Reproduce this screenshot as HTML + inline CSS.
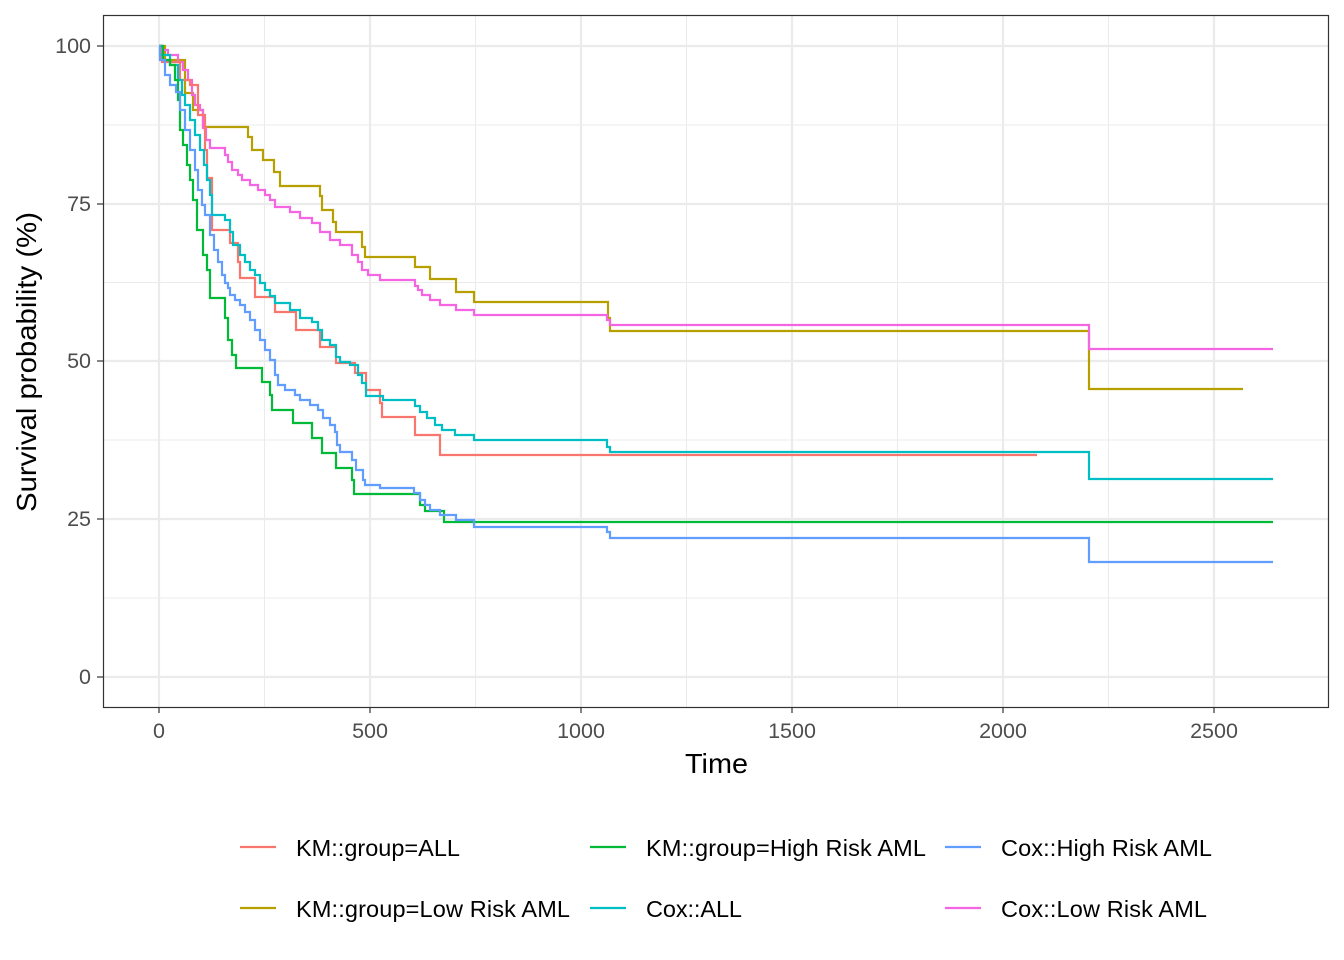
<!DOCTYPE html>
<html><head><style>body{margin:0;background:#fff}svg{display:block}</style></head><body>
<svg width="1344" height="960" xmlns="http://www.w3.org/2000/svg" font-family="Liberation Sans, sans-serif">
<rect width="1344" height="960" fill="#fff"/>
<g stroke="#EBEBEB" stroke-width="1">
<line x1="264.5" x2="264.5" y1="15" y2="707"/><line x1="475.5" x2="475.5" y1="15" y2="707"/><line x1="686.5" x2="686.5" y1="15" y2="707"/><line x1="897.5" x2="897.5" y1="15" y2="707"/><line x1="1108.5" x2="1108.5" y1="15" y2="707"/>
<line x1="103" x2="1328" y1="125" y2="125"/><line x1="103" x2="1328" y1="282.5" y2="282.5"/><line x1="103" x2="1328" y1="440" y2="440"/><line x1="103" x2="1328" y1="598" y2="598"/>
</g>
<g stroke="#EBEBEB" stroke-width="2.2">
<line x1="159" x2="159" y1="15" y2="707"/><line x1="370" x2="370" y1="15" y2="707"/><line x1="581" x2="581" y1="15" y2="707"/><line x1="792" x2="792" y1="15" y2="707"/><line x1="1003" x2="1003" y1="15" y2="707"/><line x1="1214" x2="1214" y1="15" y2="707"/>
<line x1="103" x2="1328" y1="46" y2="46"/><line x1="103" x2="1328" y1="204" y2="204"/><line x1="103" x2="1328" y1="361" y2="361"/><line x1="103" x2="1328" y1="519" y2="519"/><line x1="103" x2="1328" y1="677" y2="677"/>
</g>
<g fill="none" stroke-width="2.2">
<path stroke="#B79F00" d="M159 46 H165 V60 H185 V93 H193 V110 H203 V127 H248 V137 H252 V150 H263 V160 H274 V172 H280 V186 H320 V196 H322 V210 H333 V222 H336 V232 H362 V247 H365 V257 H415 V267 H430 V279 H456 V292 H474 V302 H608 V318 H610 V331 H1089 V389 H1243"/>
<path stroke="#F564E3" d="M159 46 H162 V50 H168 V55 H178 V62 H183 V70 H188 V80 H192 V95 H195 V105 H200 V110 H203 V128 H206 V140 H210 V148 H225 V155 H228 V162 H232 V170 H238 V175 H242 V180 H250 V185 H258 V190 H265 V195 H270 V200 H275 V207 H290 V212 H300 V218 H312 V223 H320 V232 H330 V240 H340 V245 H352 V255 H358 V262 H362 V270 H368 V275 H380 V280 H415 V286 H418 V290 H422 V295 H430 V300 H440 V305 H456 V310 H474 V315 H607 V320 H610 V325 H1089 V349 H1273"/>
<path stroke="#F8766D" d="M159 46 H162 V62 H180 V80 H190 V85 H198 V115 H205 V150 H207 V178 H212 V230 H230 V243 H238 V262 H240 V278 H255 V297 H275 V312 H296 V330 H320 V347 H336 V363 H355 V373 H366 V390 H380 V403 H382 V417 H415 V435 H440 V455 H1037"/>
<path stroke="#00BFC4" d="M159 46 H160 V55 H170 V65 H178 V80 H182 V95 H185 V105 H190 V120 H195 V135 H200 V150 H204 V165 H207 V180 H210 V195 H212 V215 H225 V220 H230 V232 H233 V245 H240 V255 H245 V262 H250 V270 H255 V275 H260 V283 H265 V290 H270 V296 H275 V303 H290 V310 H300 V318 H312 V322 H318 V330 H322 V340 H330 V345 H336 V357 H340 V362 H350 V365 H358 V375 H362 V383 H366 V396 H383 V400 H415 V406 H420 V412 H427 V418 H435 V425 H442 V430 H455 V435 H474 V440 H607 V447 H610 V452 H1089 V479 H1273"/>
<path stroke="#00BA38" d="M159 46 H163 V60 H170 V65 H175 V80 H178 V100 H180 V130 H183 V145 H187 V165 H190 V180 H193 V200 H197 V230 H203 V255 H207 V270 H210 V298 H225 V318 H228 V340 H232 V355 H236 V368 H262 V382 H270 V395 H272 V410 H293 V423 H312 V438 H322 V453 H336 V468 H352 V480 H354 V494 H420 V505 H425 V511 H444 V522 H1273"/>
<path stroke="#619CFF" d="M159 46 H160 V60 H165 V75 H170 V85 H176 V92 H180 V110 H185 V130 H190 V150 H195 V170 H198 V190 H202 V205 H205 V215 H210 V235 H214 V250 H218 V262 H222 V275 H225 V283 H228 V288 H230 V295 H235 V300 H240 V305 H245 V312 H250 V320 H255 V330 H260 V340 H265 V350 H270 V360 H275 V375 H278 V385 H285 V390 H295 V395 H300 V400 H310 V405 H318 V410 H323 V418 H330 V425 H335 V432 H337 V445 H340 V452 H352 V460 H356 V470 H363 V480 H365 V485 H380 V488 H414 V493 H420 V500 H425 V505 H430 V510 H440 V515 H456 V520 H474 V527 H607 V532 H610 V538 H1089 V562 H1273"/>
</g>
<rect x="103.5" y="15.5" width="1225" height="692" fill="none" stroke="#333" stroke-width="1.2"/>
<g stroke="#333" stroke-width="1.2">
<line x1="97" x2="103" y1="46" y2="46"/><line x1="97" x2="103" y1="204" y2="204"/><line x1="97" x2="103" y1="361" y2="361"/><line x1="97" x2="103" y1="519" y2="519"/><line x1="97" x2="103" y1="677" y2="677"/>
<line x1="159" x2="159" y1="707" y2="713"/><line x1="370" x2="370" y1="707" y2="713"/><line x1="581" x2="581" y1="707" y2="713"/><line x1="792" x2="792" y1="707" y2="713"/><line x1="1003" x2="1003" y1="707" y2="713"/><line x1="1214" x2="1214" y1="707" y2="713"/>
</g>
<g fill="#4D4D4D" font-size="21.5" text-anchor="end">
<text x="91" y="53">100</text><text x="91" y="211">75</text><text x="91" y="368">50</text><text x="91" y="526">25</text><text x="91" y="684">0</text>
</g>
<g fill="#4D4D4D" font-size="21.5" text-anchor="middle">
<text x="159" y="738">0</text><text x="370" y="738">500</text><text x="581" y="738">1000</text><text x="792" y="738">1500</text><text x="1003" y="738">2000</text><text x="1214" y="738">2500</text>
</g>
<text x="685" y="773" font-size="28" textLength="63" lengthAdjust="spacingAndGlyphs">Time</text>
<text transform="translate(36,512) rotate(-90)" font-size="28" textLength="300" lengthAdjust="spacingAndGlyphs">Survival probability (%)</text>
<g stroke-width="2.2">
<line x1="240" x2="276" y1="847" y2="847" stroke="#F8766D"/>
<line x1="590" x2="626" y1="847" y2="847" stroke="#00BA38"/>
<line x1="945" x2="981" y1="847" y2="847" stroke="#619CFF"/>
<line x1="240" x2="276" y1="908" y2="908" stroke="#B79F00"/>
<line x1="590" x2="626" y1="908" y2="908" stroke="#00BFC4"/>
<line x1="945" x2="981" y1="908" y2="908" stroke="#F564E3"/>
</g>
<g font-size="23.5" fill="#000" lengthAdjust="spacingAndGlyphs">
<text x="296" y="856" textLength="164">KM::group=ALL</text>
<text x="646" y="856" textLength="280">KM::group=High Risk AML</text>
<text x="1001" y="856" textLength="211">Cox::High Risk AML</text>
<text x="296" y="917" textLength="274">KM::group=Low Risk AML</text>
<text x="646" y="917" textLength="96">Cox::ALL</text>
<text x="1001" y="917" textLength="206">Cox::Low Risk AML</text>
</g>
</svg>
</body></html>
